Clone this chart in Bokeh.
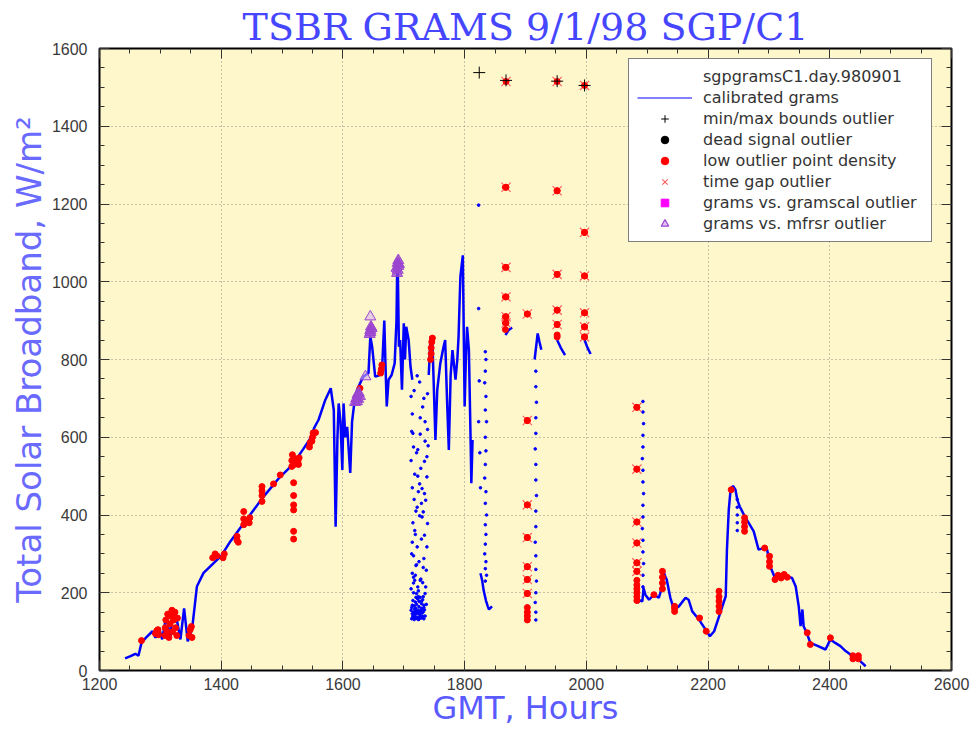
import numpy as np
from bokeh.plotting import figure
from bokeh.models import LinearAxis, FixedTicker, Legend, LegendItem
from bokeh.embed import file_html
from bokeh.resources import INLINE

nan = float("nan")

# ---------------- data ----------------
x_ticks = [1200, 1400, 1600, 1800, 2000, 2200, 2400, 2600]
y_ticks = [0, 200, 400, 600, 800, 1000, 1200, 1400, 1600]

# calibrated grams: continuous pieces
seg_a_t = [1242, 1251, 1259, 1264, 1269, 1276, 1287, 1292, 1298, 1303, 1308, 1311, 1316, 1320, 1322, 1327, 1333, 1339,
           1345, 1352, 1356, 1360, 1371, 1388, 1400, 1415, 1440, 1470, 1495, 1517, 1535, 1547, 1553, 1560, 1571, 1580,
           1585, 1588, 1591, 1593, 1596, 1599, 1601, 1604, 1607, 1612, 1615, 1618, 1623, 1630, 1634, 1642, 1645, 1648,
           1653, 1658, 1664, 1668, 1670, 1672, 1675, 1680, 1685, 1688, 1689, 1690, 1692, 1694, 1697, 1700, 1702, 1704,
           1708, 1711, 1714]
seg_a_v = [31, 37, 43, 38, 71, 84, 101, 84, 110, 80, 125, 131, 80, 150, 157, 131, 80, 160,
           75, 105, 160, 216, 251, 277, 295, 332, 385, 448, 495, 529, 570, 598, 625, 645, 696, 726,
           670, 370, 600, 687, 640, 516, 687, 600, 627, 508, 640, 679, 721, 745, 756, 765, 859, 833,
           756, 758, 765, 900, 782, 679, 748, 760, 790, 900, 1013, 1055, 833, 850, 722, 893, 800, 884,
           850, 782, 748]
seg_b_t = [1741, 1744, 1747, 1752, 1755, 1760, 1765, 1768, 1771, 1774, 1777, 1780, 1785, 1788, 1790, 1793, 1797,
           1800, 1802, 1804, 1807, 1810, 1811, 1813]
seg_b_v = [760, 859, 850, 593, 722, 790, 830, 850, 700, 567, 760, 824, 748, 800, 859, 1013, 1068,
           679, 800, 884, 824, 576, 482, 593]
seg_c_t = [1826, 1829, 1831, 1835, 1838, 1840, 1845]
seg_c_v = [250, 230, 208, 180, 165, 157, 165]
seg_d_t = [1867, 1872, 1878]
seg_d_v = [863, 875, 882]
seg_e_t = [1915, 1918, 1920, 1923, 1926]
seg_e_v = [800, 840, 867, 845, 825]
seg_f_t = [1952, 1958, 1965]
seg_f_v = [850, 830, 811]
seg_g_t = [1997, 2002, 2007]
seg_g_v = [850, 830, 814]
seg_h_t = [2084, 2088, 2092, 2094, 2097, 2103, 2111, 2119, 2124, 2126, 2130, 2132, 2138, 2144, 2152, 2163, 2168,
           2174, 2185, 2196, 2203, 2210, 2220, 2229, 2231, 2234, 2237, 2241, 2245, 2248, 2252, 2260, 2267, 2275,
           2283, 2292, 2297, 2302, 2311, 2319, 2330, 2338, 2344, 2349, 2352, 2355, 2357, 2362, 2368, 2379, 2393,
           2401, 2409, 2418, 2426, 2434, 2442, 2450, 2459]
seg_h_v = [174, 180, 178, 212, 195, 182, 195, 187, 212, 259, 240, 234, 187, 157, 165, 187, 182,
           152, 131, 105, 88, 101, 148, 191, 311, 413, 465, 475, 465, 439, 422, 397, 379, 358,
           311, 315, 311, 268, 234, 242, 242, 238, 216, 165, 114, 157, 114, 97, 71, 64, 54,
           80, 71, 62, 50, 41, 37, 24, 11]

# calibrated grams: sparse (dotted) samples
cloud_t = [1712, 1714, 1713, 1716, 1712, 1718, 1714, 1717, 1720, 1715, 1719, 1722, 1716, 1721, 1714, 1718, 1723, 1716,
           1720, 1725, 1714, 1718, 1722, 1726, 1715, 1719, 1724, 1728, 1730, 1733, 1729, 1735, 1731, 1737, 1733, 1738,
           1734, 1739, 1732, 1736, 1730, 1738, 1734, 1740, 1727, 1735, 1731, 1739, 1726, 1722, 1728, 1724, 1726, 1729,
           1725, 1727, 1721, 1717, 1731, 1723, 1713, 1737, 1720, 1732, 1716, 1735, 1712, 1729, 1724, 1719,
           1713, 1715, 1717, 1719, 1721, 1723, 1725, 1727, 1729, 1731, 1733, 1714, 1716, 1718, 1720, 1722, 1724,
           1726, 1728, 1730, 1732, 1734, 1713, 1717, 1721, 1725, 1729, 1733, 1715, 1719, 1723, 1727, 1731,
           1712, 1716, 1720, 1724, 1728, 1732, 1736, 1714, 1718, 1722, 1726, 1730, 1734, 1738, 1715, 1721, 1727,
           1733, 1739, 1717, 1723, 1729, 1735]
cloud_v = [705, 660, 615, 575, 540, 505, 470, 440, 410, 380, 350, 318, 295, 272, 250, 232, 215, 200,
           188, 178, 168, 158, 150, 145, 140, 134, 131, 137, 148, 162, 178, 198, 226, 258, 288, 318,
           348, 378, 408, 438, 468, 498, 538, 578, 608, 640, 678, 712, 742, 758, 520, 460, 398, 338,
           280, 232, 198, 150, 140, 568, 300, 170, 160, 190, 225, 140, 155, 160, 190, 245,
           133, 136, 131, 139, 134, 137, 132, 140, 135, 138, 133, 146, 150, 144, 152, 147, 155,
           149, 153, 158, 151, 156, 162, 166, 170, 164, 172, 168, 180, 176, 184, 188, 182,
           210, 240, 270, 205, 235, 265, 215, 330, 360, 420, 480, 395, 455, 550, 610, 560, 650,
           700, 620, 720, 500, 430, 590]
col_t = [1834, 1835, 1834, 1833, 1835, 1834, 1836, 1834, 1835, 1834, 1833, 1835, 1834, 1836, 1834, 1835, 1834, 1833,
         1835, 1834, 1836, 1834,
         1823, 1823, 1824, 1823, 1825, 1826,
         1917, 1917, 1916, 1917, 1918, 1917, 1917, 1916, 1917, 1917, 1918, 1917, 1917, 1916, 1917, 1917, 1918, 1917, 1917,
         2093, 2093, 2094, 2093, 2093, 2092, 2093, 2093, 2094, 2093, 2093, 2092, 2093, 2093, 2094, 2093, 2093,
         2248, 2248, 2248, 2248, 2248]
col_v = [820, 800, 770, 740, 705, 670, 640, 600, 565, 530, 495, 460, 430, 400, 375, 350, 325, 300,
         280, 262, 245, 230,
         1197, 931, 745, 640, 560, 470,
         130, 150, 175, 200, 230, 260, 295, 330, 370, 410, 450, 490, 530, 570, 610, 650, 690, 730, 770,
         692, 665, 635, 605, 575, 545, 515, 485, 455, 425, 395, 365, 335, 305, 275, 245, 215,
         440, 420, 400, 380, 360]

# low outlier point density
low_t = [1269, 1292, 1294, 1297, 1296, 1308, 1308, 1309, 1311, 1312, 1314, 1316, 1318, 1319, 1320, 1322, 1324, 1325,
         1327, 1328, 1347, 1349, 1351, 1352, 1386, 1390, 1393, 1403, 1405, 1426, 1426, 1428, 1437, 1437, 1437, 1440,
         1446, 1447, 1467, 1467, 1467, 1467, 1486, 1497, 1516, 1516, 1517, 1519, 1519, 1519, 1519, 1519, 1519, 1520,
         1521, 1527, 1528, 1526, 1545, 1546, 1549, 1550, 1551, 1555, 1628, 1662, 1663, 1664, 1744, 1745, 1745, 1746,
         1747, 1867, 1867, 1867, 1867, 1867, 1867, 1903, 1903, 1903, 1903, 1903, 1903, 1903, 1903, 1903, 1903, 1903,
         1952, 1952, 1952, 1952, 1952, 1952, 1997, 1997, 1997, 1997, 1997, 2083, 2083, 2083, 2083, 2083, 2083, 2083,
         2083, 2083, 2083, 2083, 2083, 2111, 2125, 2125, 2125, 2125, 2145, 2145, 2145, 2186, 2197, 2218, 2218, 2218,
         2218, 2218, 2238, 2260, 2260, 2260, 2260, 2293, 2301, 2301, 2301, 2310, 2315, 2320, 2325, 2330, 2363, 2368,
         2401, 2438, 2438, 2447, 2447]
low_v = [77, 95, 102, 92, 105, 90, 110, 130, 100, 145, 85, 120, 140, 155, 100, 130, 150, 110,
         90, 135, 90, 105, 113, 85, 290, 300, 295, 290, 300, 335, 345, 330, 375, 390, 409, 385,
         380, 393, 435, 450, 462, 473, 480, 503, 525, 540, 555, 483, 450, 426, 413, 358, 338, 530,
         545, 530, 547, 538, 575, 586, 590, 600, 611, 612, 726, 765, 775, 786, 800, 815, 830, 845,
         855, 877, 894, 910, 961, 1037, 1243, 917, 643, 426, 342, 267, 234, 198, 162, 150, 140, 130,
         858, 863, 890, 927, 1019, 1234, 858, 884, 920, 1015, 1127, 677, 518, 382, 328, 277, 255, 232,
         220, 210, 200, 190, 180, 195, 210, 225, 240, 255, 152, 160, 165, 135, 101, 152, 165, 178,
         190, 204, 465, 358, 370, 382, 393, 315, 268, 280, 294, 234, 245, 238, 247, 240, 97, 67,
         84, 30, 38, 30, 38]

# time gap outlier
gap_t = [1868, 1868, 1868, 1868, 1868, 1868, 1903, 1903, 1903, 1903, 1903, 1903, 1903,
         1952, 1952, 1952, 1952, 1952, 1997, 1997, 1997, 1997, 1997, 1997,
         2083, 2083, 2083, 2083, 2083, 2083]
gap_v = [1515, 1243, 1037, 961, 910, 894, 917, 643, 426, 342, 267, 234, 198,
         1515, 1234, 1019, 927, 890, 1505, 1127, 1015, 920, 884, 858,
         677, 518, 382, 328, 277, 255]

# min/max bounds outlier
bound_t = [1824, 1868, 1952, 1997]
bound_v = [1538, 1518, 1516, 1505]

# grams vs. mfrsr outlier
mfrsr_t = [1620, 1622, 1624, 1626, 1625, 1628, 1623, 1644, 1645, 1646, 1645, 1647,
           1689, 1690, 1691, 1690, 1691, 1688, 1692]
mfrsr_v = [690, 700, 710, 714, 698, 705, 692, 865, 875, 884, 870, 880,
           1022, 1030, 1040, 1048, 1055, 1035, 1045]
mfrsr_open_t = [1637, 1645]
mfrsr_open_v = [756, 910]

legend_labels = ["sgpgramsC1.day.980901", "calibrated grams", "min/max bounds outlier", "dead signal outlier",
                 "low outlier point density", "time gap outlier", "grams vs. gramscal outlier",
                 "grams vs. mfrsr outlier"]

# ---------------- figure ----------------
p = figure(width=974, height=729, x_range=(1200, 2600), y_range=(0, 1600),
           output_backend="svg", toolbar_location=None,
           min_border_left=99, min_border_right=23, min_border_top=48, min_border_bottom=58,
           background_fill_color="#fff7cc", border_fill_color="white",
           outline_line_color="black", outline_line_width=2)

p.title.text = "TSBR GRAMS 9/1/98 SGP/C1"
p.title.align = "center"
p.title.text_font = "DejaVu Serif"
p.title.text_font_size = "38px"
p.title.text_font_style = "normal"
p.title.text_color = "#4646ff"
p.title.standoff = 0

p.add_layout(LinearAxis(), "above")
p.add_layout(LinearAxis(), "right")

minor_x = list(np.arange(1200, 2601, 50))
minor_y = list(np.arange(0, 1601, 50))
for ax in p.xaxis:
    ax.ticker = FixedTicker(ticks=x_ticks, minor_ticks=minor_x)
for ax in p.yaxis:
    ax.ticker = FixedTicker(ticks=y_ticks, minor_ticks=minor_y)
for ax in p.axis:
    ax.major_tick_in = 10
    ax.major_tick_out = 0
    ax.minor_tick_in = 5
    ax.minor_tick_out = 0
    ax.major_tick_line_color = "#333333"
    ax.minor_tick_line_color = "#333333"
    ax.axis_line_color = None
    ax.major_label_text_font = "Liberation Sans"
    ax.major_label_text_font_size = "16px"
    ax.major_label_text_color = "#3a3a3a"
for ax in (p.above[0], p.right[0]):
    ax.major_label_text_font_size = "0px"
    ax.major_label_standoff = 0

xa = p.below[0]
xa.major_label_standoff = 7
xa.axis_label = "GMT, Hours"
xa.axis_label_standoff = -4
xa.axis_label_text_font = "DejaVu Sans"
xa.axis_label_text_font_size = "32px"
xa.axis_label_text_font_style = "normal"
xa.axis_label_text_color = "#5a5aff"

ya = p.left[0]
ya.major_label_standoff = 12
ya.axis_label = "Total Solar Broadband, W/m\u00b2"
ya.axis_label_standoff = 0
ya.axis_label_text_font = "DejaVu Sans"
ya.axis_label_text_font_size = "34px"
ya.axis_label_text_font_style = "normal"
ya.axis_label_text_color = "#6a6aff"

for g in (p.xgrid, p.ygrid):
    g.grid_line_color = "#8a8a78"
    g.grid_line_dash = "1 3"
    g.grid_line_width = 1


def join(*segs):
    out_t, out_v = [], []
    for t, v in segs:
        out_t += t + [nan]
        out_v += v + [nan]
    return out_t, out_v


lt, lv = join((seg_a_t, seg_a_v), (seg_b_t, seg_b_v), (seg_c_t, seg_c_v), (seg_d_t, seg_d_v),
              (seg_e_t, seg_e_v), (seg_f_t, seg_f_v), (seg_g_t, seg_g_v), (seg_h_t, seg_h_v))
p.line(lt, lv, line_color="#0000ff", line_width=2.5)
p.scatter(cloud_t, cloud_v, marker="circle", size=2.6, color="#0000ff")
p.scatter(col_t, col_v, marker="circle", size=2.6, color="#0000ff")

p.scatter(low_t, low_v, marker="circle", size=6, color="#ff0000")
p.scatter(gap_t, gap_v, marker="x", size=13, line_color="#ff6060", line_width=1.2)
p.scatter(gap_t, gap_v, marker="circle", size=6, color="#ff0000")
p.scatter(bound_t, bound_v, marker="cross", size=12, line_color="black", line_width=1)
p.scatter(mfrsr_t, mfrsr_v, marker="triangle", size=11, fill_color="#9b45d0", fill_alpha=0.75,
          line_color="#9b45d0", line_width=1)
p.scatter(mfrsr_open_t, mfrsr_open_v, marker="triangle", size=11, fill_color="#d7b0f0", fill_alpha=0.6,
          line_color="#9b45d0", line_width=1)

# legend proxies (hidden renderers, drawn only as legend glyphs)
px, py = [x_ticks[0]], [y_ticks[0]]
proxies = [
    p.scatter(px, py, marker="circle", size=1, fill_alpha=0, line_alpha=0),
    p.line(px, py, line_color="#8080ff", line_width=2),
    p.scatter(px, py, marker="cross", line_color="black", line_width=1),
    p.scatter(px, py, marker="circle", color="black"),
    p.scatter(px, py, marker="circle", color="#ff0000"),
    p.scatter(px, py, marker="x", line_color="#ff6060", line_width=1.2),
    p.scatter(px, py, marker="square", color="#ff00ff"),
    p.scatter(px, py, marker="triangle", fill_color="#e2c6f4", line_color="#9b45d0", line_width=1.2),
]
for r in proxies:
    r.visible = False

legend = Legend(items=[LegendItem(label=lab, renderers=[r]) for lab, r in zip(legend_labels, proxies)],
                location=(529, 428), padding=8, spacing=2, glyph_width=55, glyph_height=19, label_height=19,
                label_width=220, label_standoff=11, label_text_font="DejaVu Sans", label_text_font_size="16px",
                label_text_color="#333333", border_line_color="black", border_line_width=1.5,
                background_fill_color="white", background_fill_alpha=1, margin=0,
                inactive_fill_alpha=0, click_policy="none")
p.add_layout(legend)

open("out.html", "w").write(file_html(p, INLINE))
